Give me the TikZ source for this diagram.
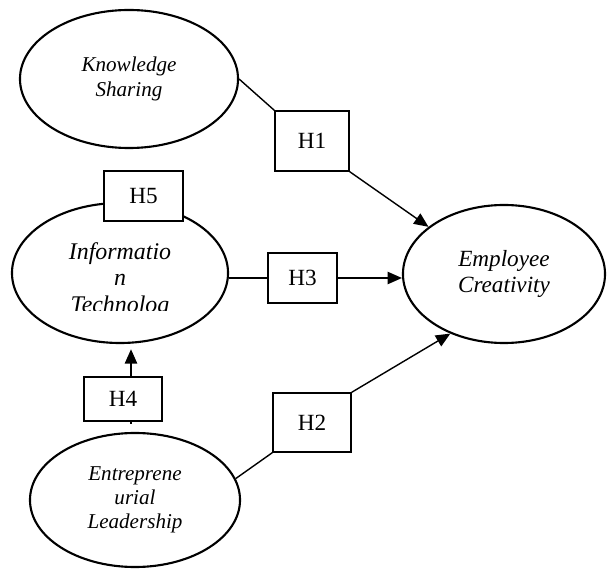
\documentclass[tikz,border=0pt]{standalone}
\usepackage{fontspec}
\setmainfont{Liberation Serif}
\usetikzlibrary{shapes.geometric,arrows.meta}

\tikzset{
    construct/.style={ellipse, draw, line width=1.5pt, inner sep=0pt, align=center, font=\itshape},
    hypbox/.style={rectangle, draw, fill=white, line width=1pt, inner sep=0pt, font=\fontsize{16.5}{19}\selectfont},
    path/.style={line width=1pt},
    effect/.style={line width=1pt, -{Triangle[length=3.6mm,width=3.1mm]}}
}

\begin{document}
\begin{tikzpicture}[x=0.025cm, y=-0.025cm]
    \useasboundingbox (0,0) rectangle (607,571);

    % Constructos
    \node[construct, minimum width=54.5mm, minimum height=34.5mm, font=\itshape\fontsize{15}{17.7}\selectfont] (ks) at (129,79) {Knowledge\\Sharing};
    \node[construct, minimum width=54mm, minimum height=35mm] (it) at (120,273) {};
    \node[construct, minimum width=50.5mm, minimum height=34.5mm, font=\itshape\fontsize{16.5}{18.4}\selectfont] (ec) at (504,274) {Employee\\Creativity};
    \node[construct, minimum width=52.5mm, minimum height=33.5mm, font=\itshape\fontsize{15}{17}\selectfont] (el) at (135,500) {Entreprene\\urial\\Leadership};

    % Texto recortado dentro de IT
    \begin{scope}
        \clip (0,200) rectangle (300,311);
        \node[align=center, font=\itshape\fontsize{17}{19}\selectfont] (itlabel) at (120,280) {Informatio\\n\\Technolog};
    \end{scope}

    % Hipotesis
    \node[hypbox, minimum width=18.5mm, minimum height=15mm] (h1) at (312,141) {H1};
    \node[hypbox, minimum width=17.25mm, minimum height=12.5mm] (h3) at (302.5,278) {H3};
    \node[hypbox, minimum width=19.5mm, minimum height=14.75mm] (h2) at (312,422.5) {H2};
    \node[hypbox, minimum width=19.5mm, minimum height=11mm] (h4) at (123,399) {H4};
    \node[hypbox, minimum width=19.75mm, minimum height=12.5mm] (h5) at (143.5,196) {H5};

    % Relaciones
    \draw[path] (ks.east) -- (h1.north west);
    \draw[effect] (h1.south east) -- (ec.148);
    \draw[path] (h3.west -| it.east) -- (h3.west);
    \draw[effect] (h3.east) -- (h3.east -| ec.west);
    \draw[path] (el.12) -- (h2.south west);
    \draw[effect] (h2.north east) -- (ec.228);
    \draw[path, shorten >=2mm] ([xshift=2mm]h4.south) -- ([xshift=2mm]h4.south |- el.north);
    \draw[effect, shorten >=1.3mm] ([xshift=2mm]h4.north) -- ([xshift=2mm]h4.north |- it.south);

\end{tikzpicture}
\end{document}
